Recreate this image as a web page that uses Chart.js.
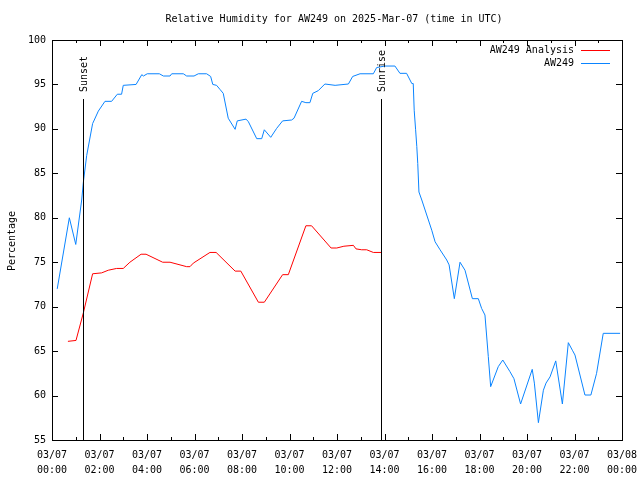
<!DOCTYPE html>
<html>
<head>
<meta charset="utf-8">
<script src="https://cdn.jsdelivr.net/npm/chart.js@4/dist/chart.umd.min.js"></script>
<style>
  body { margin: 0; background: #fff; }
  #wrap { width: 640px; height: 480px; }
</style>
</head>
<body>
<div id="wrap"><canvas id="rhChart" width="640" height="480"></canvas></div>
<script>
// datos (hora UTC en horas decimales)
const titulo = "Relative Humidity for AW249 on 2025-Mar-07 (time in UTC)";
const nombreSeries = ["AW249 Analysis", "AW249"];

const horasAnalisis = [0.67, 1.01, 1.32, 1.71, 2.09, 2.37, 2.72, 3.0, 3.28, 3.75, 3.96, 4.66, 4.97, 5.67, 5.81, 5.95,
  6.65, 6.91, 7.71, 7.95, 8.69, 8.94, 9.71, 9.95, 10.69, 10.93, 11.75, 11.99, 12.29, 12.69, 12.8, 13.04, 13.25, 13.53, 13.88];
const valoresAnalisis = [66.1, 66.2, 69.3, 73.7, 73.8, 74.1, 74.3, 74.3, 75.0, 75.9, 75.9, 75.0, 75.0, 74.5, 74.5, 74.9,
  76.1, 76.1, 74.0, 74.0, 70.5, 70.5, 73.6, 73.6, 79.1, 79.1, 76.6, 76.6, 76.8, 76.9, 76.5, 76.4, 76.4, 76.1, 76.1];

const horasEstacion = [0.22, 0.73, 1.0, 1.25, 1.32, 1.46, 1.71, 1.78, 1.95, 2.23, 2.51, 2.75, 2.93, 3.0, 3.54, 3.78,
  3.85, 4.01, 4.52, 4.69, 4.97, 5.04, 5.53, 5.67, 5.98, 6.16, 6.51, 6.68, 6.77, 6.93, 7.07, 7.21, 7.42, 7.71,
  7.8, 8.17, 8.27, 8.62, 8.83, 8.94, 9.21, 9.46, 9.71, 10.09, 10.19, 10.51, 10.69, 10.86, 10.98, 11.21, 11.49,
  11.92, 12.48, 12.66, 12.97, 13.53, 13.67, 14.02, 14.44, 14.65, 14.93, 15.15, 15.21, 15.25, 15.31, 15.36, 15.4,
  15.45, 15.57, 15.99, 16.13, 16.34, 16.62, 16.72, 16.94, 17.18, 17.39, 17.7, 17.95, 18.09, 18.23, 18.37, 18.47,
  18.79, 18.98, 19.28, 19.45, 19.73, 20.22, 20.31, 20.48, 20.69, 20.8, 20.97, 21.21, 21.49, 21.74, 21.91, 22.02,
  22.44, 22.69, 22.93, 23.21, 23.92];
const valoresEstacion = [72, 80, 77, 82, 84, 87, 90.6, 91, 92, 93.1, 93.1, 93.9, 93.9, 94.9, 95, 96.1,
  95.95, 96.2, 96.2, 95.95, 95.95, 96.2, 96.2, 95.95, 95.95, 96.2, 96.2, 95.9, 95.0, 94.9, 94.45, 94.0, 91.2, 89.95,
  90.9, 91.1, 90.8, 88.9, 88.9, 89.9, 89.05, 90.06, 90.9, 91, 91.2, 93.1, 92.95, 92.95, 94.0, 94.3, 95.05,
  94.9, 95.05, 95.9, 96.2, 96.2, 96.9, 97.07, 97.07, 96.25, 96.25, 95.1, 95.1, 92.1, 89.9, 88, 86.1,
  82.9, 82, 78.6, 77.3, 76.4, 75.25, 74.7, 70.9, 75.0, 74.1, 70.9, 70.9, 69.8, 69.06, 64.4, 61.0,
  63.25, 64.0, 62.7, 61.9, 59.05, 62.95, 61.4, 56.95, 60.6, 61.4, 62.1, 63.9, 59.05, 65.95, 65.1, 64.56,
  60.06, 60.06, 62.5, 67.0, 67.0];

// marcas de puesta y salida del sol
const eventos = ["Sunset", "Sunrise"];
const horasEventos = [1.31, 13.85];

const fuente = "'DejaVu Sans Mono', 'Liberation Mono', monospace";

function pares(xs, ys) {
  return xs.map((x, i) => ({ x: x, y: ys[i] }));
}
function dosDigitos(n) {
  return (n < 10 ? "0" : "") + n;
}

// marco, ticks, titulos y leyenda (estilo gnuplot)
const estiloGnuplot = {
  id: "estiloGnuplot",
  afterDatasetsDraw(chart) {
    const c = chart.ctx;
    const a = chart.chartArea;
    const sx = chart.scales.x;
    const sy = chart.scales.y;
    c.save();
    c.strokeStyle = "#000";
    c.lineWidth = 1;

    // lineas de sunset / sunrise
    eventos.forEach((ev, i) => {
      const px = Math.round(sx.getPixelForValue(horasEventos[i])) + 0.5;
      c.beginPath();
      c.moveTo(px, a.bottom);
      c.lineTo(px, a.top + 59);
      c.stroke();
      c.save();
      c.translate(px + 1, a.top + 52);
      c.rotate(-Math.PI / 2);
      c.fillStyle = "#000";
      c.font = "10px " + fuente;
      c.textAlign = "left";
      c.textBaseline = "middle";
      c.fillText(ev, 0, 0);
      c.restore();
    });

    // marco
    c.strokeRect(Math.round(a.left) + 0.5, Math.round(a.top) + 0.5,
      Math.round(a.right - a.left), Math.round(a.bottom - a.top));

    // ticks eje x (mayores cada 2h, menores cada 1h)
    for (let h = 0; h <= 24; h++) {
      const px = Math.round(sx.getPixelForValue(h)) + 0.5;
      const len = h % 2 === 0 ? 6 : 3;
      c.beginPath();
      c.moveTo(px, a.bottom); c.lineTo(px, a.bottom - len);
      c.moveTo(px, a.top); c.lineTo(px, a.top + len);
      c.stroke();
    }
    // ticks eje y
    for (let v = 55; v <= 100; v += 5) {
      const py = Math.round(sy.getPixelForValue(v)) + 0.5;
      c.beginPath();
      c.moveTo(a.left, py); c.lineTo(a.left + 6, py);
      c.moveTo(a.right, py); c.lineTo(a.right - 6, py);
      c.stroke();
    }

    // titulo
    c.fillStyle = "#000";
    c.font = "10px " + fuente;
    c.textAlign = "center";
    c.textBaseline = "middle";
    c.fillText(titulo, 334, 19);

    // titulo eje y
    c.save();
    c.translate(12, 241);
    c.rotate(-Math.PI / 2);
    c.fillText("Percentage", 0, 0);
    c.restore();

    // leyenda
    c.textAlign = "right";
    chart.data.datasets.forEach((ds, i) => {
      const ly = 50 + i * 13;
      c.fillStyle = "#000";
      c.fillText(ds.label, 574, ly);
      c.strokeStyle = ds.borderColor;
      c.beginPath();
      c.moveTo(581, ly + 0.5);
      c.lineTo(610, ly + 0.5);
      c.stroke();
    });
    c.restore();
  }
};

const ctx = document.getElementById("rhChart").getContext("2d");
const rhChart = new Chart(ctx, {
  type: "line",
  data: {
    datasets: [
      {
        label: nombreSeries[0],
        data: pares(horasAnalisis, valoresAnalisis),
        borderColor: "#ff0000",
        borderWidth: 1,
        pointRadius: 0,
        tension: 0,
        fill: false
      },
      {
        label: nombreSeries[1],
        data: pares(horasEstacion, valoresEstacion),
        borderColor: "#0a84ff",
        borderWidth: 1,
        pointRadius: 0,
        tension: 0,
        fill: false
      }
    ]
  },
  options: {
    responsive: false,
    animation: false,
    layout: { padding: { top: 40, right: 18, left: 0, bottom: 0 } },
    plugins: {
      legend: { display: false },
      title: { display: false },
      tooltip: { enabled: false }
    },
    scales: {
      x: {
        type: "linear",
        min: 0,
        max: 24,
        grid: { display: false, drawTicks: false },
        border: { display: false },
        ticks: {
          stepSize: 2,
          maxRotation: 0,
          autoSkip: false,
          padding: 8,
          color: "#000",
          font: { family: fuente, size: 10, lineHeight: 1.5 },
          callback: (v) => [v < 24 ? "03/07" : "03/08", dosDigitos(v % 24) + ":00"]
        },
        afterFit: (s) => { s.height = 40; s.paddingRight = 0; s.paddingLeft = 0; }
      },
      y: {
        min: 55,
        max: 100,
        grid: { display: false, drawTicks: false },
        border: { display: false },
        ticks: {
          stepSize: 5,
          padding: 6,
          color: "#000",
          font: { family: fuente, size: 10 }
        },
        afterFit: (s) => { s.width = 52; s.paddingTop = 0; s.paddingBottom = 0; }
      }
    }
  },
  plugins: [estiloGnuplot]
});
</script>
</body>
</html>
